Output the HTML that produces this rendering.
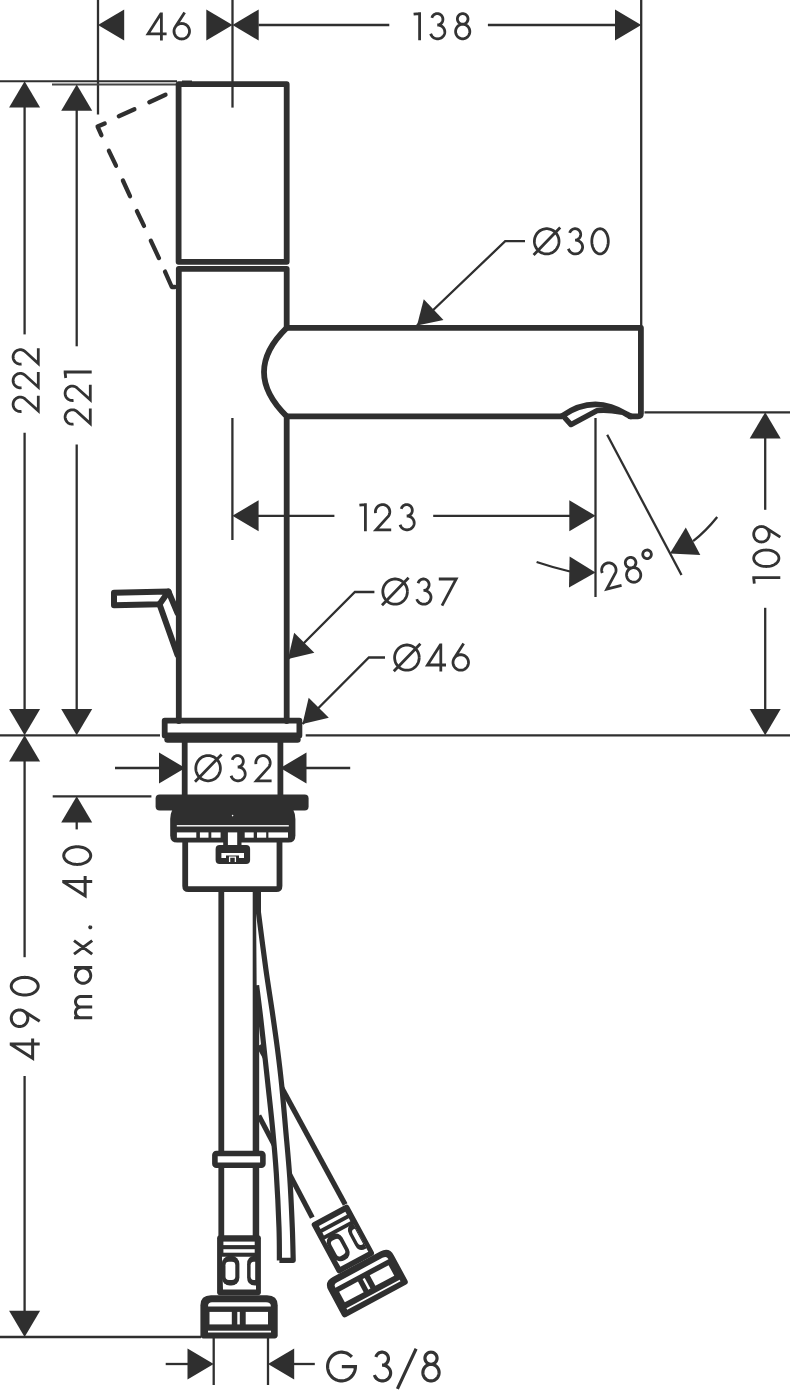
<!DOCTYPE html>
<html><head><meta charset="utf-8"><title>Dimension drawing</title>
<style>html,body{margin:0;padding:0;background:#fff;font-family:"Liberation Sans",sans-serif;}svg{display:block}</style></head>
<body>
<svg width="790" height="1394" viewBox="0 0 790 1394">
<line x1="98.00" y1="0.00" x2="98.00" y2="114.50" stroke="#2f2f2f" stroke-width="2.30" stroke-linecap="butt"/>
<line x1="232.50" y1="0.00" x2="232.50" y2="107.60" stroke="#2f2f2f" stroke-width="2.30" stroke-linecap="butt"/>
<line x1="641.20" y1="0.00" x2="641.20" y2="326.00" stroke="#2f2f2f" stroke-width="2.30" stroke-linecap="butt"/>
<polygon points="98.00,25.00 124.20,9.50 124.20,40.50" fill="#2f2f2f"/>
<polygon points="232.50,25.00 206.30,40.50 206.30,9.50" fill="#2f2f2f"/>
<polygon points="232.50,25.00 258.70,9.50 258.70,40.50" fill="#2f2f2f"/>
<line x1="258.50" y1="25.00" x2="389.30" y2="25.00" stroke="#2f2f2f" stroke-width="2.30" stroke-linecap="butt"/>
<line x1="487.90" y1="25.00" x2="616.00" y2="25.00" stroke="#2f2f2f" stroke-width="2.30" stroke-linecap="butt"/>
<polygon points="641.20,25.00 615.00,40.50 615.00,9.50" fill="#2f2f2f"/>
<line x1="0.00" y1="81.20" x2="177.00" y2="81.20" stroke="#2f2f2f" stroke-width="2.00" stroke-linecap="butt"/>
<line x1="52.00" y1="84.50" x2="177.00" y2="84.50" stroke="#444" stroke-width="1.80" stroke-linecap="butt"/>
<line x1="182.00" y1="81.30" x2="192.00" y2="81.30" stroke="#2f2f2f" stroke-width="1.60" stroke-linecap="butt"/>
<polygon points="24.60,81.20 40.10,107.40 9.10,107.40" fill="#2f2f2f"/>
<line x1="24.60" y1="106.00" x2="24.60" y2="334.40" stroke="#2f2f2f" stroke-width="2.30" stroke-linecap="butt"/>
<line x1="24.60" y1="432.70" x2="24.60" y2="711.00" stroke="#2f2f2f" stroke-width="2.30" stroke-linecap="butt"/>
<polygon points="24.60,735.20 9.10,709.00 40.10,709.00" fill="#2f2f2f"/>
<polygon points="76.70,84.50 92.20,110.70 61.20,110.70" fill="#2f2f2f"/>
<line x1="76.70" y1="109.00" x2="76.70" y2="346.30" stroke="#2f2f2f" stroke-width="2.30" stroke-linecap="butt"/>
<line x1="76.70" y1="444.60" x2="76.70" y2="711.00" stroke="#2f2f2f" stroke-width="2.30" stroke-linecap="butt"/>
<polygon points="76.70,735.20 61.20,709.00 92.20,709.00" fill="#2f2f2f"/>
<line x1="0.00" y1="735.30" x2="160.00" y2="735.30" stroke="#2f2f2f" stroke-width="2.30" stroke-linecap="butt"/>
<line x1="305.70" y1="735.30" x2="790.00" y2="735.30" stroke="#2f2f2f" stroke-width="2.30" stroke-linecap="butt"/>
<polygon points="24.60,735.20 40.10,761.40 9.10,761.40" fill="#2f2f2f"/>
<line x1="24.60" y1="760.00" x2="24.60" y2="957.20" stroke="#2f2f2f" stroke-width="2.30" stroke-linecap="butt"/>
<line x1="24.60" y1="1076.00" x2="24.60" y2="1312.00" stroke="#2f2f2f" stroke-width="2.30" stroke-linecap="butt"/>
<polygon points="24.60,1337.00 9.10,1310.80 40.10,1310.80" fill="#2f2f2f"/>
<line x1="0.00" y1="1337.00" x2="201.00" y2="1337.00" stroke="#2f2f2f" stroke-width="2.30" stroke-linecap="butt"/>
<line x1="52.70" y1="796.30" x2="151.40" y2="796.30" stroke="#2f2f2f" stroke-width="2.30" stroke-linecap="butt"/>
<polygon points="76.70,796.30 92.20,822.50 61.20,822.50" fill="#2f2f2f"/>
<line x1="76.70" y1="821.00" x2="76.70" y2="829.40" stroke="#2f2f2f" stroke-width="2.30" stroke-linecap="butt"/>
<polygon points="185.20,768.00 159.00,783.50 159.00,752.50" fill="#2f2f2f"/>
<line x1="115.00" y1="768.00" x2="161.00" y2="768.00" stroke="#2f2f2f" stroke-width="2.30" stroke-linecap="butt"/>
<polygon points="280.30,768.00 306.50,752.50 306.50,783.50" fill="#2f2f2f"/>
<line x1="305.00" y1="768.00" x2="350.20" y2="768.00" stroke="#2f2f2f" stroke-width="2.30" stroke-linecap="butt"/>
<line x1="232.40" y1="418.00" x2="232.40" y2="540.00" stroke="#2f2f2f" stroke-width="2.30" stroke-linecap="butt"/>
<polygon points="232.40,515.80 258.60,500.30 258.60,531.30" fill="#2f2f2f"/>
<line x1="258.00" y1="515.80" x2="334.40" y2="515.80" stroke="#2f2f2f" stroke-width="2.30" stroke-linecap="butt"/>
<line x1="433.20" y1="515.80" x2="570.00" y2="515.80" stroke="#2f2f2f" stroke-width="2.30" stroke-linecap="butt"/>
<polygon points="595.50,515.80 569.30,531.30 569.30,500.30" fill="#2f2f2f"/>
<line x1="595.50" y1="418.00" x2="595.50" y2="597.00" stroke="#2f2f2f" stroke-width="2.30" stroke-linecap="butt"/>
<line x1="607.20" y1="434.80" x2="681.50" y2="575.00" stroke="#2f2f2f" stroke-width="2.30" stroke-linecap="butt"/>
<polygon points="595.50,572.50 569.00,587.47 569.62,556.48" fill="#2f2f2f"/>
<path d="M536.6,562 Q553,567.5 570,571.5" fill="none" stroke="#2f2f2f" stroke-width="2.30" stroke-linejoin="round" stroke-linecap="butt" />
<polygon points="669.90,553.50 685.79,527.54 700.31,554.93" fill="#2f2f2f"/>
<path d="M693.1,541.2 Q706,531 717.2,517" fill="none" stroke="#2f2f2f" stroke-width="2.30" stroke-linejoin="round" stroke-linecap="butt" />
<line x1="644.50" y1="412.30" x2="790.00" y2="412.30" stroke="#2f2f2f" stroke-width="2.30" stroke-linecap="butt"/>
<polygon points="765.20,412.30 780.70,438.50 749.70,438.50" fill="#2f2f2f"/>
<line x1="765.20" y1="437.00" x2="765.20" y2="509.80" stroke="#2f2f2f" stroke-width="2.30" stroke-linecap="butt"/>
<line x1="765.20" y1="607.80" x2="765.20" y2="711.00" stroke="#2f2f2f" stroke-width="2.30" stroke-linecap="butt"/>
<polygon points="765.20,735.20 749.70,709.00 780.70,709.00" fill="#2f2f2f"/>
<line x1="213.70" y1="1338.00" x2="213.70" y2="1385.00" stroke="#2f2f2f" stroke-width="2.30" stroke-linecap="butt"/>
<line x1="268.00" y1="1338.00" x2="268.00" y2="1385.00" stroke="#2f2f2f" stroke-width="2.30" stroke-linecap="butt"/>
<polygon points="213.70,1364.00 187.50,1379.50 187.50,1348.50" fill="#2f2f2f"/>
<line x1="165.70" y1="1364.00" x2="189.00" y2="1364.00" stroke="#2f2f2f" stroke-width="2.30" stroke-linecap="butt"/>
<polygon points="268.00,1364.00 294.20,1348.50 294.20,1379.50" fill="#2f2f2f"/>
<line x1="293.00" y1="1364.00" x2="314.80" y2="1364.00" stroke="#2f2f2f" stroke-width="2.30" stroke-linecap="butt"/>
<path d="M525.0,241.2 L505.2,241.2 L417.0,325.5" fill="none" stroke="#2f2f2f" stroke-width="2.30" stroke-linejoin="miter" stroke-linecap="butt" />
<polygon points="417.00,325.50 423.78,299.31 443.47,319.91" fill="#2f2f2f"/>
<path d="M374.4,592.0 L354.9,592.0 L288.0,659.0" fill="none" stroke="#2f2f2f" stroke-width="2.30" stroke-linejoin="miter" stroke-linecap="butt" />
<polygon points="288.00,659.00 294.17,632.66 314.34,652.79" fill="#2f2f2f"/>
<path d="M385.0,657.5 L368.9,657.5 L302.5,724.0" fill="none" stroke="#2f2f2f" stroke-width="2.30" stroke-linejoin="miter" stroke-linecap="butt" />
<polygon points="302.50,724.00 308.67,697.66 328.84,717.79" fill="#2f2f2f"/>
<path d="M14.60,0.00 L14.60,-28.00 M14.40,-27.10 L1.26,-6.60 L19.80,-6.60 M27.20,-9.15 L27.24,-8.34 L27.37,-7.54 L27.58,-6.76 L27.87,-6.00 L28.24,-5.27 L28.68,-4.59 L29.19,-3.96 L29.76,-3.39 L30.39,-2.88 L31.07,-2.44 L31.80,-2.07 L32.56,-1.78 L33.34,-1.57 L34.14,-1.44 L34.95,-1.40 L35.76,-1.44 L36.56,-1.57 L37.34,-1.78 L38.10,-2.07 L38.83,-2.44 L39.51,-2.88 L40.14,-3.39 L40.71,-3.96 L41.22,-4.59 L41.66,-5.27 L42.03,-6.00 L42.32,-6.76 L42.53,-7.54 L42.66,-8.34 L42.70,-9.15 L42.66,-9.96 L42.53,-10.76 L42.32,-11.54 L42.03,-12.30 L41.66,-13.02 L41.22,-13.71 L40.71,-14.34 L40.14,-14.91 L39.51,-15.42 L38.83,-15.86 L38.10,-16.23 L37.34,-16.52 L36.56,-16.73 L35.76,-16.86 L34.95,-16.90 L34.14,-16.86 L33.34,-16.73 L32.56,-16.52 L31.80,-16.23 L31.07,-15.86 L30.39,-15.42 L29.76,-14.91 L29.19,-14.34 L28.68,-13.71 L28.24,-13.03 L27.87,-12.30 L27.58,-11.54 L27.37,-10.76 L27.24,-9.96 L27.20,-9.15 M28.43,-13.34 L37.85,-28.00" fill="none" stroke="#333333" stroke-width="2.80" stroke-linejoin="miter" stroke-miterlimit="5" transform="translate(146.80,40.40) rotate(0) scale(1)"/>
<path d="M6.20,0.00 L6.20,-28.00 M0.20,-26.00 L6.20,-26.60 M18.49,-22.38 L18.71,-23.04 L19.01,-23.68 L19.38,-24.27 L19.83,-24.81 L20.33,-25.29 L20.89,-25.71 L21.50,-26.05 L22.14,-26.31 L22.81,-26.49 L23.49,-26.58 L24.18,-26.59 L24.87,-26.51 L25.55,-26.35 L26.19,-26.10 L26.81,-25.77 L27.37,-25.37 L27.89,-24.90 L28.34,-24.37 L28.73,-23.79 L29.04,-23.16 L29.28,-22.50 L29.43,-21.81 L29.50,-21.11 L29.48,-20.40 L29.38,-19.71 L29.19,-19.03 L28.92,-18.38 L28.58,-17.77 L28.16,-17.20 L27.68,-16.70 L27.15,-16.25 L26.56,-15.88 L25.93,-15.59 L25.27,-15.37 L24.59,-15.24 L23.90,-15.20 L24.20,-15.20 L24.93,-15.16 L25.65,-15.06 L26.35,-14.88 L27.03,-14.64 L27.69,-14.34 L28.31,-13.97 L28.88,-13.54 L29.41,-13.06 L29.89,-12.53 L30.30,-11.96 L30.66,-11.35 L30.95,-10.71 L31.17,-10.05 L31.31,-9.36 L31.39,-8.67 L31.39,-7.97 L31.32,-7.28 L31.18,-6.59 L30.96,-5.93 L30.68,-5.29 L30.33,-4.67 L29.91,-4.10 L29.44,-3.57 L28.91,-3.09 L28.34,-2.66 L27.73,-2.28 L27.07,-1.97 L26.39,-1.73 L25.69,-1.55 L24.97,-1.44 L24.24,-1.40 L23.52,-1.43 L22.80,-1.53 L22.09,-1.70 L21.41,-1.94 L20.75,-2.24 L20.13,-2.61 L19.55,-3.03 L19.02,-3.51 L18.54,-4.03 L18.12,-4.60 L17.76,-5.21 L17.47,-5.85 L17.25,-6.51 M49.30,-16.00 L49.96,-16.04 L50.62,-16.17 L51.25,-16.37 L51.85,-16.66 L52.42,-17.01 L52.93,-17.44 L53.38,-17.92 L53.77,-18.46 L54.10,-19.04 L54.34,-19.66 L54.51,-20.31 L54.59,-20.97 L54.59,-21.63 L54.51,-22.29 L54.34,-22.94 L54.10,-23.56 L53.77,-24.14 L53.38,-24.68 L52.93,-25.16 L52.42,-25.59 L51.85,-25.94 L51.25,-26.23 L50.62,-26.43 L49.96,-26.56 L49.30,-26.60 L48.64,-26.56 L47.98,-26.43 L47.35,-26.23 L46.75,-25.94 L46.18,-25.59 L45.67,-25.16 L45.22,-24.68 L44.83,-24.14 L44.50,-23.56 L44.26,-22.94 L44.09,-22.29 L44.01,-21.63 L44.01,-20.97 L44.09,-20.31 L44.26,-19.66 L44.50,-19.04 L44.83,-18.46 L45.22,-17.92 L45.67,-17.44 L46.18,-17.01 L46.75,-16.66 L47.35,-16.37 L47.98,-16.17 L48.64,-16.04 L49.30,-16.00 M49.30,-16.00 L48.56,-15.96 L47.82,-15.84 L47.11,-15.64 L46.41,-15.37 L45.75,-15.02 L45.13,-14.61 L44.55,-14.12 L44.02,-13.58 L43.56,-12.99 L43.15,-12.35 L42.81,-11.67 L42.55,-10.96 L42.36,-10.22 L42.24,-9.46 L42.20,-8.70 L42.24,-7.94 L42.36,-7.18 L42.55,-6.44 L42.81,-5.73 L43.15,-5.05 L43.56,-4.41 L44.02,-3.82 L44.55,-3.28 L45.13,-2.79 L45.75,-2.38 L46.41,-2.03 L47.11,-1.76 L47.82,-1.56 L48.56,-1.44 L49.30,-1.40 L50.04,-1.44 L50.78,-1.56 L51.49,-1.76 L52.19,-2.03 L52.85,-2.38 L53.47,-2.79 L54.05,-3.28 L54.58,-3.82 L55.04,-4.41 L55.45,-5.05 L55.79,-5.73 L56.05,-6.44 L56.24,-7.18 L56.36,-7.94 L56.40,-8.70 L56.36,-9.46 L56.24,-10.22 L56.05,-10.96 L55.79,-11.67 L55.45,-12.35 L55.04,-12.99 L54.58,-13.58 L54.05,-14.12 L53.47,-14.61 L52.85,-15.02 L52.19,-15.37 L51.49,-15.64 L50.78,-15.84 L50.04,-15.96 L49.30,-16.00" fill="none" stroke="#333333" stroke-width="2.80" stroke-linejoin="miter" stroke-miterlimit="5" transform="translate(413.40,40.20) rotate(0) scale(1)"/>
<path d="M26.00,-14.00 L25.95,-15.13 L25.80,-16.25 L25.56,-17.35 L25.22,-18.43 L24.78,-19.47 L24.26,-20.46 L23.65,-21.41 L22.96,-22.29 L22.20,-23.11 L21.37,-23.85 L20.48,-24.52 L19.53,-25.10 L18.53,-25.59 L17.50,-25.98 L16.44,-26.28 L15.35,-26.49 L14.25,-26.59 L13.15,-26.59 L12.05,-26.49 L10.96,-26.28 L9.90,-25.98 L8.87,-25.59 L7.87,-25.10 L6.92,-24.52 L6.03,-23.85 L5.20,-23.11 L4.44,-22.29 L3.75,-21.41 L3.14,-20.46 L2.62,-19.47 L2.18,-18.43 L1.84,-17.35 L1.60,-16.25 L1.45,-15.13 L1.40,-14.00 L1.45,-12.87 L1.60,-11.75 L1.84,-10.65 L2.18,-9.57 L2.62,-8.53 L3.14,-7.54 L3.75,-6.59 L4.44,-5.71 L5.20,-4.89 L6.03,-4.15 L6.92,-3.48 L7.87,-2.90 L8.87,-2.41 L9.90,-2.02 L10.96,-1.72 L12.05,-1.51 L13.15,-1.41 L14.25,-1.41 L15.35,-1.51 L16.44,-1.72 L17.50,-2.02 L18.53,-2.41 L19.53,-2.90 L20.48,-3.48 L21.37,-4.15 L22.20,-4.89 L22.96,-5.71 L23.65,-6.59 L24.26,-7.54 L24.78,-8.53 L25.22,-9.57 L25.56,-10.65 L25.80,-11.75 L25.95,-12.87 L26.00,-14.00 M0.60,-0.40 L27.20,-27.80 M36.69,-22.38 L36.91,-23.04 L37.21,-23.68 L37.58,-24.27 L38.03,-24.81 L38.53,-25.29 L39.09,-25.71 L39.70,-26.05 L40.34,-26.31 L41.01,-26.49 L41.69,-26.58 L42.38,-26.59 L43.07,-26.51 L43.75,-26.35 L44.39,-26.10 L45.01,-25.77 L45.57,-25.37 L46.09,-24.90 L46.54,-24.37 L46.93,-23.79 L47.24,-23.16 L47.48,-22.50 L47.63,-21.81 L47.70,-21.11 L47.68,-20.40 L47.58,-19.71 L47.39,-19.03 L47.12,-18.38 L46.78,-17.77 L46.36,-17.20 L45.88,-16.70 L45.35,-16.25 L44.76,-15.88 L44.13,-15.59 L43.47,-15.37 L42.79,-15.24 L42.10,-15.20 L42.40,-15.20 L43.13,-15.16 L43.85,-15.06 L44.55,-14.88 L45.23,-14.64 L45.89,-14.34 L46.51,-13.97 L47.08,-13.54 L47.61,-13.06 L48.09,-12.53 L48.50,-11.96 L48.86,-11.35 L49.15,-10.71 L49.37,-10.05 L49.51,-9.36 L49.59,-8.67 L49.59,-7.97 L49.52,-7.28 L49.38,-6.59 L49.16,-5.93 L48.88,-5.29 L48.53,-4.67 L48.11,-4.10 L47.64,-3.57 L47.11,-3.09 L46.54,-2.66 L45.93,-2.28 L45.27,-1.97 L44.59,-1.73 L43.89,-1.55 L43.17,-1.44 L42.44,-1.40 L41.72,-1.43 L41.00,-1.53 L40.29,-1.70 L39.61,-1.94 L38.95,-2.24 L38.33,-2.61 L37.75,-3.03 L37.22,-3.51 L36.74,-4.03 L36.32,-4.60 L35.96,-5.21 L35.67,-5.85 L35.45,-6.51 M75.30,-14.00 L75.25,-15.32 L75.12,-16.62 L74.90,-17.89 L74.59,-19.12 L74.19,-20.30 L73.72,-21.41 L73.18,-22.43 L72.57,-23.36 L71.90,-24.19 L71.17,-24.91 L70.41,-25.51 L69.60,-25.98 L68.77,-26.32 L67.91,-26.53 L67.05,-26.60 L66.19,-26.53 L65.33,-26.32 L64.50,-25.98 L63.69,-25.51 L62.92,-24.91 L62.20,-24.19 L61.53,-23.36 L60.92,-22.43 L60.38,-21.41 L59.91,-20.30 L59.51,-19.12 L59.20,-17.89 L58.98,-16.62 L58.85,-15.32 L58.80,-14.00 L58.85,-12.68 L58.98,-11.38 L59.20,-10.11 L59.51,-8.88 L59.91,-7.70 L60.38,-6.59 L60.92,-5.57 L61.53,-4.64 L62.20,-3.81 L62.92,-3.09 L63.69,-2.49 L64.50,-2.02 L65.33,-1.68 L66.19,-1.47 L67.05,-1.40 L67.91,-1.47 L68.77,-1.68 L69.60,-2.02 L70.41,-2.49 L71.17,-3.09 L71.90,-3.81 L72.57,-4.64 L73.18,-5.57 L73.72,-6.59 L74.19,-7.70 L74.59,-8.88 L74.90,-10.11 L75.12,-11.38 L75.25,-12.68 L75.30,-14.00" fill="none" stroke="#333333" stroke-width="2.80" stroke-linejoin="miter" stroke-miterlimit="5" transform="translate(533.00,255.30) rotate(0) scale(1)"/>
<path d="M6.20,0.00 L6.20,-28.00 M0.20,-26.00 L6.20,-26.60 M16.31,-18.15 L16.22,-18.87 L16.20,-19.60 L16.26,-20.33 L16.39,-21.04 L16.59,-21.74 L16.86,-22.42 L17.20,-23.07 L17.60,-23.67 L18.07,-24.24 L18.58,-24.75 L19.15,-25.21 L19.76,-25.61 L20.40,-25.95 L21.08,-26.22 L21.78,-26.42 L22.50,-26.54 L23.22,-26.60 L23.95,-26.58 L24.68,-26.49 L25.38,-26.32 L26.07,-26.09 L26.74,-25.78 L27.36,-25.41 L27.95,-24.98 L28.49,-24.49 L28.98,-23.95 L29.41,-23.36 L29.78,-22.74 L30.09,-22.07 L30.32,-21.38 L30.49,-20.68 L30.58,-19.95 L30.60,-19.22 L30.54,-18.50 L30.42,-17.78 L30.22,-17.08 L29.95,-16.40 L29.61,-15.76 L29.21,-15.15 L28.75,-14.58 L16.80,-1.40 L32.00,-1.40 M42.09,-22.38 L42.31,-23.04 L42.61,-23.68 L42.98,-24.27 L43.43,-24.81 L43.93,-25.29 L44.49,-25.71 L45.10,-26.05 L45.74,-26.31 L46.41,-26.49 L47.09,-26.58 L47.78,-26.59 L48.47,-26.51 L49.15,-26.35 L49.79,-26.10 L50.41,-25.77 L50.97,-25.37 L51.49,-24.90 L51.94,-24.37 L52.33,-23.79 L52.64,-23.16 L52.88,-22.50 L53.03,-21.81 L53.10,-21.11 L53.08,-20.40 L52.98,-19.71 L52.79,-19.03 L52.52,-18.38 L52.18,-17.77 L51.76,-17.20 L51.28,-16.70 L50.75,-16.25 L50.16,-15.88 L49.53,-15.59 L48.87,-15.37 L48.19,-15.24 L47.50,-15.20 L47.80,-15.20 L48.53,-15.16 L49.25,-15.06 L49.95,-14.88 L50.63,-14.64 L51.29,-14.34 L51.91,-13.97 L52.48,-13.54 L53.01,-13.06 L53.49,-12.53 L53.90,-11.96 L54.26,-11.35 L54.55,-10.71 L54.77,-10.05 L54.91,-9.36 L54.99,-8.67 L54.99,-7.97 L54.92,-7.28 L54.78,-6.59 L54.56,-5.93 L54.28,-5.29 L53.93,-4.67 L53.51,-4.10 L53.04,-3.57 L52.51,-3.09 L51.94,-2.66 L51.33,-2.28 L50.67,-1.97 L49.99,-1.73 L49.29,-1.55 L48.57,-1.44 L47.84,-1.40 L47.12,-1.43 L46.40,-1.53 L45.69,-1.70 L45.01,-1.94 L44.35,-2.24 L43.73,-2.61 L43.15,-3.03 L42.62,-3.51 L42.14,-4.03 L41.72,-4.60 L41.36,-5.21 L41.07,-5.85 L40.85,-6.51" fill="none" stroke="#333333" stroke-width="2.80" stroke-linejoin="miter" stroke-miterlimit="5" transform="translate(359.20,531.20) rotate(0) scale(1)"/>
<path d="M26.00,-14.00 L25.95,-15.13 L25.80,-16.25 L25.56,-17.35 L25.22,-18.43 L24.78,-19.47 L24.26,-20.46 L23.65,-21.41 L22.96,-22.29 L22.20,-23.11 L21.37,-23.85 L20.48,-24.52 L19.53,-25.10 L18.53,-25.59 L17.50,-25.98 L16.44,-26.28 L15.35,-26.49 L14.25,-26.59 L13.15,-26.59 L12.05,-26.49 L10.96,-26.28 L9.90,-25.98 L8.87,-25.59 L7.87,-25.10 L6.92,-24.52 L6.03,-23.85 L5.20,-23.11 L4.44,-22.29 L3.75,-21.41 L3.14,-20.46 L2.62,-19.47 L2.18,-18.43 L1.84,-17.35 L1.60,-16.25 L1.45,-15.13 L1.40,-14.00 L1.45,-12.87 L1.60,-11.75 L1.84,-10.65 L2.18,-9.57 L2.62,-8.53 L3.14,-7.54 L3.75,-6.59 L4.44,-5.71 L5.20,-4.89 L6.03,-4.15 L6.92,-3.48 L7.87,-2.90 L8.87,-2.41 L9.90,-2.02 L10.96,-1.72 L12.05,-1.51 L13.15,-1.41 L14.25,-1.41 L15.35,-1.51 L16.44,-1.72 L17.50,-2.02 L18.53,-2.41 L19.53,-2.90 L20.48,-3.48 L21.37,-4.15 L22.20,-4.89 L22.96,-5.71 L23.65,-6.59 L24.26,-7.54 L24.78,-8.53 L25.22,-9.57 L25.56,-10.65 L25.80,-11.75 L25.95,-12.87 L26.00,-14.00 M0.60,-0.40 L27.20,-27.80 M36.69,-22.38 L36.91,-23.04 L37.21,-23.68 L37.58,-24.27 L38.03,-24.81 L38.53,-25.29 L39.09,-25.71 L39.70,-26.05 L40.34,-26.31 L41.01,-26.49 L41.69,-26.58 L42.38,-26.59 L43.07,-26.51 L43.75,-26.35 L44.39,-26.10 L45.01,-25.77 L45.57,-25.37 L46.09,-24.90 L46.54,-24.37 L46.93,-23.79 L47.24,-23.16 L47.48,-22.50 L47.63,-21.81 L47.70,-21.11 L47.68,-20.40 L47.58,-19.71 L47.39,-19.03 L47.12,-18.38 L46.78,-17.77 L46.36,-17.20 L45.88,-16.70 L45.35,-16.25 L44.76,-15.88 L44.13,-15.59 L43.47,-15.37 L42.79,-15.24 L42.10,-15.20 L42.40,-15.20 L43.13,-15.16 L43.85,-15.06 L44.55,-14.88 L45.23,-14.64 L45.89,-14.34 L46.51,-13.97 L47.08,-13.54 L47.61,-13.06 L48.09,-12.53 L48.50,-11.96 L48.86,-11.35 L49.15,-10.71 L49.37,-10.05 L49.51,-9.36 L49.59,-8.67 L49.59,-7.97 L49.52,-7.28 L49.38,-6.59 L49.16,-5.93 L48.88,-5.29 L48.53,-4.67 L48.11,-4.10 L47.64,-3.57 L47.11,-3.09 L46.54,-2.66 L45.93,-2.28 L45.27,-1.97 L44.59,-1.73 L43.89,-1.55 L43.17,-1.44 L42.44,-1.40 L41.72,-1.43 L41.00,-1.53 L40.29,-1.70 L39.61,-1.94 L38.95,-2.24 L38.33,-2.61 L37.75,-3.03 L37.22,-3.51 L36.74,-4.03 L36.32,-4.60 L35.96,-5.21 L35.67,-5.85 L35.45,-6.51 M57.40,-26.60 L74.80,-26.60 L60.60,0.00" fill="none" stroke="#333333" stroke-width="2.80" stroke-linejoin="miter" stroke-miterlimit="5" transform="translate(381.40,605.60) rotate(0) scale(1)"/>
<path d="M26.00,-14.00 L25.95,-15.13 L25.80,-16.25 L25.56,-17.35 L25.22,-18.43 L24.78,-19.47 L24.26,-20.46 L23.65,-21.41 L22.96,-22.29 L22.20,-23.11 L21.37,-23.85 L20.48,-24.52 L19.53,-25.10 L18.53,-25.59 L17.50,-25.98 L16.44,-26.28 L15.35,-26.49 L14.25,-26.59 L13.15,-26.59 L12.05,-26.49 L10.96,-26.28 L9.90,-25.98 L8.87,-25.59 L7.87,-25.10 L6.92,-24.52 L6.03,-23.85 L5.20,-23.11 L4.44,-22.29 L3.75,-21.41 L3.14,-20.46 L2.62,-19.47 L2.18,-18.43 L1.84,-17.35 L1.60,-16.25 L1.45,-15.13 L1.40,-14.00 L1.45,-12.87 L1.60,-11.75 L1.84,-10.65 L2.18,-9.57 L2.62,-8.53 L3.14,-7.54 L3.75,-6.59 L4.44,-5.71 L5.20,-4.89 L6.03,-4.15 L6.92,-3.48 L7.87,-2.90 L8.87,-2.41 L9.90,-2.02 L10.96,-1.72 L12.05,-1.51 L13.15,-1.41 L14.25,-1.41 L15.35,-1.51 L16.44,-1.72 L17.50,-2.02 L18.53,-2.41 L19.53,-2.90 L20.48,-3.48 L21.37,-4.15 L22.20,-4.89 L22.96,-5.71 L23.65,-6.59 L24.26,-7.54 L24.78,-8.53 L25.22,-9.57 L25.56,-10.65 L25.80,-11.75 L25.95,-12.87 L26.00,-14.00 M0.60,-0.40 L27.20,-27.80 M47.60,0.00 L47.60,-28.00 M47.40,-27.10 L34.26,-6.60 L52.80,-6.60 M59.80,-9.15 L59.84,-8.34 L59.97,-7.54 L60.18,-6.76 L60.47,-6.00 L60.84,-5.27 L61.28,-4.59 L61.79,-3.96 L62.36,-3.39 L62.99,-2.88 L63.67,-2.44 L64.40,-2.07 L65.16,-1.78 L65.94,-1.57 L66.74,-1.44 L67.55,-1.40 L68.36,-1.44 L69.16,-1.57 L69.94,-1.78 L70.70,-2.07 L71.42,-2.44 L72.11,-2.88 L72.74,-3.39 L73.31,-3.96 L73.82,-4.59 L74.26,-5.27 L74.63,-6.00 L74.92,-6.76 L75.13,-7.54 L75.26,-8.34 L75.30,-9.15 L75.26,-9.96 L75.13,-10.76 L74.92,-11.54 L74.63,-12.30 L74.26,-13.02 L73.82,-13.71 L73.31,-14.34 L72.74,-14.91 L72.11,-15.42 L71.42,-15.86 L70.70,-16.23 L69.94,-16.52 L69.16,-16.73 L68.36,-16.86 L67.55,-16.90 L66.74,-16.86 L65.94,-16.73 L65.16,-16.52 L64.40,-16.23 L63.67,-15.86 L62.99,-15.42 L62.36,-14.91 L61.79,-14.34 L61.28,-13.71 L60.84,-13.03 L60.47,-12.30 L60.18,-11.54 L59.97,-10.76 L59.84,-9.96 L59.80,-9.15 M61.03,-13.34 L70.45,-28.00" fill="none" stroke="#333333" stroke-width="2.80" stroke-linejoin="miter" stroke-miterlimit="5" transform="translate(393.20,671.60) rotate(0) scale(1)"/>
<path d="M26.00,-14.00 L25.95,-15.13 L25.80,-16.25 L25.56,-17.35 L25.22,-18.43 L24.78,-19.47 L24.26,-20.46 L23.65,-21.41 L22.96,-22.29 L22.20,-23.11 L21.37,-23.85 L20.48,-24.52 L19.53,-25.10 L18.53,-25.59 L17.50,-25.98 L16.44,-26.28 L15.35,-26.49 L14.25,-26.59 L13.15,-26.59 L12.05,-26.49 L10.96,-26.28 L9.90,-25.98 L8.87,-25.59 L7.87,-25.10 L6.92,-24.52 L6.03,-23.85 L5.20,-23.11 L4.44,-22.29 L3.75,-21.41 L3.14,-20.46 L2.62,-19.47 L2.18,-18.43 L1.84,-17.35 L1.60,-16.25 L1.45,-15.13 L1.40,-14.00 L1.45,-12.87 L1.60,-11.75 L1.84,-10.65 L2.18,-9.57 L2.62,-8.53 L3.14,-7.54 L3.75,-6.59 L4.44,-5.71 L5.20,-4.89 L6.03,-4.15 L6.92,-3.48 L7.87,-2.90 L8.87,-2.41 L9.90,-2.02 L10.96,-1.72 L12.05,-1.51 L13.15,-1.41 L14.25,-1.41 L15.35,-1.51 L16.44,-1.72 L17.50,-2.02 L18.53,-2.41 L19.53,-2.90 L20.48,-3.48 L21.37,-4.15 L22.20,-4.89 L22.96,-5.71 L23.65,-6.59 L24.26,-7.54 L24.78,-8.53 L25.22,-9.57 L25.56,-10.65 L25.80,-11.75 L25.95,-12.87 L26.00,-14.00 M0.60,-0.40 L27.20,-27.80 M37.89,-22.38 L38.11,-23.04 L38.41,-23.68 L38.78,-24.27 L39.23,-24.81 L39.73,-25.29 L40.29,-25.71 L40.90,-26.05 L41.54,-26.31 L42.21,-26.49 L42.89,-26.58 L43.58,-26.59 L44.27,-26.51 L44.95,-26.35 L45.59,-26.10 L46.21,-25.77 L46.77,-25.37 L47.29,-24.90 L47.74,-24.37 L48.13,-23.79 L48.44,-23.16 L48.68,-22.50 L48.83,-21.81 L48.90,-21.11 L48.88,-20.40 L48.78,-19.71 L48.59,-19.03 L48.32,-18.38 L47.98,-17.77 L47.56,-17.20 L47.08,-16.70 L46.55,-16.25 L45.96,-15.88 L45.33,-15.59 L44.67,-15.37 L43.99,-15.24 L43.30,-15.20 L43.60,-15.20 L44.33,-15.16 L45.05,-15.06 L45.75,-14.88 L46.43,-14.64 L47.09,-14.34 L47.71,-13.97 L48.28,-13.54 L48.81,-13.06 L49.29,-12.53 L49.70,-11.96 L50.06,-11.35 L50.35,-10.71 L50.57,-10.05 L50.71,-9.36 L50.79,-8.67 L50.79,-7.97 L50.72,-7.28 L50.58,-6.59 L50.36,-5.93 L50.08,-5.29 L49.73,-4.67 L49.31,-4.10 L48.84,-3.57 L48.31,-3.09 L47.74,-2.66 L47.13,-2.28 L46.47,-1.97 L45.79,-1.73 L45.09,-1.55 L44.37,-1.44 L43.64,-1.40 L42.92,-1.43 L42.20,-1.53 L41.49,-1.70 L40.81,-1.94 L40.15,-2.24 L39.53,-2.61 L38.95,-3.03 L38.42,-3.51 L37.94,-4.03 L37.52,-4.60 L37.16,-5.21 L36.87,-5.85 L36.65,-6.51 M61.51,-18.15 L61.42,-18.87 L61.40,-19.60 L61.46,-20.33 L61.59,-21.04 L61.79,-21.74 L62.06,-22.42 L62.40,-23.07 L62.80,-23.67 L63.27,-24.24 L63.78,-24.75 L64.35,-25.21 L64.96,-25.61 L65.60,-25.95 L66.28,-26.22 L66.98,-26.42 L67.70,-26.54 L68.42,-26.60 L69.15,-26.58 L69.88,-26.49 L70.58,-26.32 L71.27,-26.09 L71.94,-25.78 L72.56,-25.41 L73.15,-24.98 L73.69,-24.49 L74.18,-23.95 L74.61,-23.36 L74.98,-22.74 L75.29,-22.07 L75.52,-21.38 L75.69,-20.68 L75.78,-19.95 L75.80,-19.22 L75.74,-18.50 L75.62,-17.78 L75.42,-17.08 L75.15,-16.40 L74.81,-15.76 L74.41,-15.15 L73.95,-14.58 L62.00,-1.40 L77.20,-1.40" fill="none" stroke="#333333" stroke-width="2.80" stroke-linejoin="miter" stroke-miterlimit="5" transform="translate(194.40,782.20) rotate(0) scale(1)"/>
<path d="M1.51,-18.15 L1.42,-18.87 L1.40,-19.60 L1.46,-20.33 L1.59,-21.04 L1.79,-21.74 L2.06,-22.42 L2.40,-23.07 L2.80,-23.67 L3.27,-24.24 L3.78,-24.75 L4.35,-25.21 L4.96,-25.61 L5.60,-25.95 L6.28,-26.22 L6.98,-26.42 L7.70,-26.54 L8.42,-26.60 L9.15,-26.58 L9.88,-26.49 L10.58,-26.32 L11.27,-26.09 L11.94,-25.78 L12.56,-25.41 L13.15,-24.98 L13.69,-24.49 L14.18,-23.95 L14.61,-23.36 L14.98,-22.74 L15.29,-22.07 L15.52,-21.38 L15.69,-20.68 L15.78,-19.95 L15.80,-19.22 L15.74,-18.50 L15.62,-17.78 L15.42,-17.08 L15.15,-16.40 L14.81,-15.76 L14.41,-15.15 L13.95,-14.58 L2.00,-1.40 L17.20,-1.40 M25.21,-18.15 L25.12,-18.87 L25.10,-19.60 L25.16,-20.33 L25.29,-21.04 L25.49,-21.74 L25.76,-22.42 L26.10,-23.07 L26.50,-23.67 L26.97,-24.24 L27.48,-24.75 L28.05,-25.21 L28.66,-25.61 L29.30,-25.95 L29.98,-26.22 L30.68,-26.42 L31.40,-26.54 L32.12,-26.60 L32.85,-26.58 L33.58,-26.49 L34.28,-26.32 L34.97,-26.09 L35.64,-25.78 L36.26,-25.41 L36.85,-24.98 L37.39,-24.49 L37.88,-23.95 L38.31,-23.36 L38.68,-22.74 L38.99,-22.07 L39.22,-21.38 L39.39,-20.68 L39.48,-19.95 L39.50,-19.22 L39.44,-18.50 L39.32,-17.78 L39.12,-17.08 L38.85,-16.40 L38.51,-15.76 L38.11,-15.15 L37.65,-14.58 L25.70,-1.40 L40.90,-1.40 M48.91,-18.15 L48.82,-18.87 L48.80,-19.60 L48.86,-20.33 L48.99,-21.04 L49.19,-21.74 L49.46,-22.42 L49.80,-23.07 L50.20,-23.67 L50.67,-24.24 L51.18,-24.75 L51.75,-25.21 L52.36,-25.61 L53.00,-25.95 L53.68,-26.22 L54.38,-26.42 L55.10,-26.54 L55.82,-26.60 L56.55,-26.58 L57.28,-26.49 L57.98,-26.32 L58.67,-26.09 L59.34,-25.78 L59.96,-25.41 L60.55,-24.98 L61.09,-24.49 L61.58,-23.95 L62.01,-23.36 L62.38,-22.74 L62.69,-22.07 L62.92,-21.38 L63.09,-20.68 L63.18,-19.95 L63.20,-19.22 L63.14,-18.50 L63.02,-17.78 L62.82,-17.08 L62.55,-16.40 L62.21,-15.76 L61.81,-15.15 L61.35,-14.58 L49.40,-1.40 L64.60,-1.40" fill="none" stroke="#333333" stroke-width="2.80" stroke-linejoin="miter" stroke-miterlimit="5" transform="translate(39.70,412.90) rotate(-90) scale(1)"/>
<path d="M1.51,-18.15 L1.42,-18.87 L1.40,-19.60 L1.46,-20.33 L1.59,-21.04 L1.79,-21.74 L2.06,-22.42 L2.40,-23.07 L2.80,-23.67 L3.27,-24.24 L3.78,-24.75 L4.35,-25.21 L4.96,-25.61 L5.60,-25.95 L6.28,-26.22 L6.98,-26.42 L7.70,-26.54 L8.42,-26.60 L9.15,-26.58 L9.88,-26.49 L10.58,-26.32 L11.27,-26.09 L11.94,-25.78 L12.56,-25.41 L13.15,-24.98 L13.69,-24.49 L14.18,-23.95 L14.61,-23.36 L14.98,-22.74 L15.29,-22.07 L15.52,-21.38 L15.69,-20.68 L15.78,-19.95 L15.80,-19.22 L15.74,-18.50 L15.62,-17.78 L15.42,-17.08 L15.15,-16.40 L14.81,-15.76 L14.41,-15.15 L13.95,-14.58 L2.00,-1.40 L17.20,-1.40 M25.21,-18.15 L25.12,-18.87 L25.10,-19.60 L25.16,-20.33 L25.29,-21.04 L25.49,-21.74 L25.76,-22.42 L26.10,-23.07 L26.50,-23.67 L26.97,-24.24 L27.48,-24.75 L28.05,-25.21 L28.66,-25.61 L29.30,-25.95 L29.98,-26.22 L30.68,-26.42 L31.40,-26.54 L32.12,-26.60 L32.85,-26.58 L33.58,-26.49 L34.28,-26.32 L34.97,-26.09 L35.64,-25.78 L36.26,-25.41 L36.85,-24.98 L37.39,-24.49 L37.88,-23.95 L38.31,-23.36 L38.68,-22.74 L38.99,-22.07 L39.22,-21.38 L39.39,-20.68 L39.48,-19.95 L39.50,-19.22 L39.44,-18.50 L39.32,-17.78 L39.12,-17.08 L38.85,-16.40 L38.51,-15.76 L38.11,-15.15 L37.65,-14.58 L25.70,-1.40 L40.90,-1.40 M53.60,0.00 L53.60,-28.00 M47.60,-26.00 L53.60,-26.60" fill="none" stroke="#333333" stroke-width="2.80" stroke-linejoin="miter" stroke-miterlimit="5" transform="translate(91.70,425.60) rotate(-90) scale(1)"/>
<path d="M6.20,0.00 L6.20,-28.00 M0.20,-26.00 L6.20,-26.60 M33.80,-14.00 L33.75,-15.32 L33.62,-16.62 L33.40,-17.89 L33.09,-19.12 L32.69,-20.30 L32.22,-21.41 L31.68,-22.43 L31.07,-23.36 L30.40,-24.19 L29.68,-24.91 L28.91,-25.51 L28.10,-25.98 L27.27,-26.32 L26.41,-26.53 L25.55,-26.60 L24.69,-26.53 L23.83,-26.32 L23.00,-25.98 L22.19,-25.51 L21.43,-24.91 L20.70,-24.19 L20.03,-23.36 L19.42,-22.43 L18.88,-21.41 L18.41,-20.30 L18.01,-19.12 L17.70,-17.89 L17.48,-16.62 L17.35,-15.32 L17.30,-14.00 L17.35,-12.68 L17.48,-11.38 L17.70,-10.11 L18.01,-8.88 L18.41,-7.70 L18.88,-6.59 L19.42,-5.57 L20.03,-4.64 L20.70,-3.81 L21.42,-3.09 L22.19,-2.49 L23.00,-2.02 L23.83,-1.68 L24.69,-1.47 L25.55,-1.40 L26.41,-1.47 L27.27,-1.68 L28.10,-2.02 L28.91,-2.49 L29.68,-3.09 L30.40,-3.81 L31.07,-4.64 L31.68,-5.57 L32.22,-6.59 L32.69,-7.70 L33.09,-8.88 L33.40,-10.11 L33.62,-11.38 L33.75,-12.68 L33.80,-14.00 M57.30,-18.85 L57.26,-19.66 L57.13,-20.46 L56.92,-21.24 L56.63,-22.00 L56.26,-22.73 L55.82,-23.41 L55.31,-24.04 L54.74,-24.61 L54.11,-25.12 L53.42,-25.56 L52.70,-25.93 L51.94,-26.22 L51.16,-26.43 L50.36,-26.56 L49.55,-26.60 L48.74,-26.56 L47.94,-26.43 L47.16,-26.22 L46.40,-25.93 L45.67,-25.56 L44.99,-25.12 L44.36,-24.61 L43.79,-24.04 L43.28,-23.41 L42.84,-22.73 L42.47,-22.00 L42.18,-21.24 L41.97,-20.46 L41.84,-19.66 L41.80,-18.85 L41.84,-18.04 L41.97,-17.24 L42.18,-16.46 L42.47,-15.70 L42.84,-14.98 L43.28,-14.29 L43.79,-13.66 L44.36,-13.09 L44.99,-12.58 L45.67,-12.14 L46.40,-11.77 L47.16,-11.48 L47.94,-11.27 L48.74,-11.14 L49.55,-11.10 L50.36,-11.14 L51.16,-11.27 L51.94,-11.48 L52.70,-11.77 L53.42,-12.14 L54.11,-12.58 L54.74,-13.09 L55.31,-13.66 L55.82,-14.29 L56.26,-14.97 L56.63,-15.70 L56.92,-16.46 L57.13,-17.24 L57.26,-18.04 L57.30,-18.85 M56.07,-14.66 L46.65,0.00" fill="none" stroke="#333333" stroke-width="2.80" stroke-linejoin="miter" stroke-miterlimit="5" transform="translate(780.30,583.80) rotate(-90) scale(1)"/>
<path d="M14.60,0.00 L14.60,-28.00 M14.40,-27.10 L1.26,-6.60 L19.80,-6.60 M46.43,-18.85 L46.39,-19.66 L46.26,-20.46 L46.05,-21.24 L45.76,-22.00 L45.39,-22.73 L44.95,-23.41 L44.44,-24.04 L43.87,-24.61 L43.24,-25.12 L42.56,-25.56 L41.83,-25.93 L41.08,-26.22 L40.29,-26.43 L39.49,-26.56 L38.68,-26.60 L37.87,-26.56 L37.07,-26.43 L36.29,-26.22 L35.53,-25.93 L34.81,-25.56 L34.13,-25.12 L33.50,-24.61 L32.92,-24.04 L32.41,-23.41 L31.97,-22.73 L31.60,-22.00 L31.31,-21.24 L31.10,-20.46 L30.98,-19.66 L30.93,-18.85 L30.98,-18.04 L31.10,-17.24 L31.31,-16.46 L31.60,-15.70 L31.97,-14.98 L32.41,-14.29 L32.92,-13.66 L33.50,-13.09 L34.13,-12.58 L34.81,-12.14 L35.53,-11.77 L36.29,-11.48 L37.07,-11.27 L37.87,-11.14 L38.68,-11.10 L39.49,-11.14 L40.29,-11.27 L41.08,-11.48 L41.83,-11.77 L42.56,-12.14 L43.24,-12.58 L43.87,-13.09 L44.44,-13.66 L44.95,-14.29 L45.39,-14.97 L45.76,-15.70 L46.05,-16.46 L46.26,-17.24 L46.39,-18.04 L46.43,-18.85 M45.20,-14.66 L35.78,0.00 M76.87,-14.00 L76.83,-15.32 L76.69,-16.62 L76.47,-17.89 L76.16,-19.12 L75.77,-20.30 L75.30,-21.41 L74.75,-22.43 L74.14,-23.36 L73.47,-24.19 L72.75,-24.91 L71.98,-25.51 L71.17,-25.98 L70.34,-26.32 L69.48,-26.53 L68.62,-26.60 L67.76,-26.53 L66.91,-26.32 L66.07,-25.98 L65.27,-25.51 L64.50,-24.91 L63.77,-24.19 L63.10,-23.36 L62.49,-22.43 L61.95,-21.41 L61.48,-20.30 L61.09,-19.12 L60.78,-17.89 L60.55,-16.62 L60.42,-15.32 L60.37,-14.00 L60.42,-12.68 L60.55,-11.38 L60.78,-10.11 L61.09,-8.88 L61.48,-7.70 L61.95,-6.59 L62.49,-5.57 L63.10,-4.64 L63.77,-3.81 L64.50,-3.09 L65.27,-2.49 L66.07,-2.02 L66.91,-1.68 L67.76,-1.47 L68.62,-1.40 L69.48,-1.47 L70.34,-1.68 L71.17,-2.02 L71.98,-2.49 L72.75,-3.09 L73.47,-3.81 L74.14,-4.64 L74.75,-5.57 L75.30,-6.59 L75.77,-7.70 L76.16,-8.88 L76.47,-10.11 L76.69,-11.38 L76.83,-12.68 L76.87,-14.00" fill="none" stroke="#333333" stroke-width="2.80" stroke-linejoin="miter" stroke-miterlimit="5" transform="translate(39.70,1059.60) rotate(-90) scale(1.07)"/>
<path d="M86.51,-1.80 L86.47,-2.03 L86.34,-2.22 L86.14,-2.35 L85.91,-2.40 L85.68,-2.35 L85.49,-2.22 L85.36,-2.03 L85.31,-1.80 L85.36,-1.57 L85.49,-1.38 L85.68,-1.25 L85.91,-1.20 L86.14,-1.25 L86.34,-1.38 L86.47,-1.57 L86.51,-1.80" fill="none" stroke="#333333" stroke-width="2.60" stroke-linejoin="round" transform="translate(92.20,1019.20) rotate(-90) scale(1.07)"/>
<path d="M1.40,0.00 L1.40,-17.00 M1.40,-10.65 L1.40,-10.65 L1.44,-11.30 L1.57,-11.93 L1.78,-12.54 L2.06,-13.12 L2.42,-13.66 L2.85,-14.15 L3.34,-14.58 L3.88,-14.94 L4.46,-15.22 L5.07,-15.43 L5.70,-15.56 L6.35,-15.60 L7.00,-15.56 L7.63,-15.43 L8.24,-15.22 L8.82,-14.94 L9.36,-14.58 L9.85,-14.15 L10.28,-13.66 L10.64,-13.12 L10.92,-12.54 L11.13,-11.93 L11.26,-11.30 L11.30,-10.65 L11.30,0.00 M11.30,-10.65 L11.30,-10.65 L11.34,-11.30 L11.47,-11.93 L11.68,-12.54 L11.96,-13.12 L12.32,-13.66 L12.75,-14.15 L13.24,-14.58 L13.78,-14.94 L14.36,-15.22 L14.97,-15.43 L15.60,-15.56 L16.25,-15.60 L16.90,-15.56 L17.53,-15.43 L18.14,-15.22 L18.73,-14.94 L19.26,-14.58 L19.75,-14.15 L20.18,-13.66 L20.54,-13.12 L20.82,-12.54 L21.03,-11.93 L21.16,-11.30 L21.20,-10.65 L21.20,0.00 M47.84,-8.50 L47.79,-9.39 L47.62,-10.27 L47.34,-11.11 L46.96,-11.92 L46.49,-12.67 L45.92,-13.36 L45.27,-13.97 L44.55,-14.49 L43.77,-14.92 L42.94,-15.25 L42.07,-15.47 L41.19,-15.59 L40.30,-15.59 L39.41,-15.47 L38.55,-15.25 L37.72,-14.92 L36.94,-14.49 L36.22,-13.97 L35.57,-13.36 L35.00,-12.67 L34.52,-11.92 L34.14,-11.11 L33.87,-10.27 L33.70,-9.39 L33.64,-8.50 L33.70,-7.61 L33.87,-6.73 L34.14,-5.89 L34.52,-5.08 L35.00,-4.33 L35.57,-3.64 L36.22,-3.03 L36.94,-2.51 L37.72,-2.08 L38.55,-1.75 L39.41,-1.53 L40.30,-1.41 L41.19,-1.41 L42.07,-1.53 L42.94,-1.75 L43.77,-2.08 L44.55,-2.51 L45.27,-3.03 L45.92,-3.64 L46.49,-4.33 L46.96,-5.08 L47.34,-5.89 L47.62,-6.73 L47.79,-7.61 L47.84,-8.50 M48.34,0.00 L48.34,-17.00 M60.81,0.00 L73.41,-17.00 M60.81,-17.00 L73.41,0.00 M128.71,0.00 L128.71,-28.00 M128.51,-27.10 L115.37,-6.60 L133.91,-6.60 M161.17,-14.00 L161.13,-15.32 L160.99,-16.62 L160.77,-17.89 L160.46,-19.12 L160.07,-20.30 L159.60,-21.41 L159.05,-22.43 L158.44,-23.36 L157.77,-24.19 L157.05,-24.91 L156.28,-25.51 L155.47,-25.98 L154.64,-26.32 L153.78,-26.53 L152.92,-26.60 L152.06,-26.53 L151.21,-26.32 L150.37,-25.98 L149.57,-25.51 L148.80,-24.91 L148.07,-24.19 L147.40,-23.36 L146.79,-22.43 L146.25,-21.41 L145.78,-20.30 L145.38,-19.12 L145.07,-17.89 L144.85,-16.62 L144.72,-15.32 L144.67,-14.00 L144.72,-12.68 L144.85,-11.38 L145.07,-10.11 L145.38,-8.88 L145.78,-7.70 L146.25,-6.59 L146.79,-5.57 L147.40,-4.64 L148.07,-3.81 L148.80,-3.09 L149.57,-2.49 L150.37,-2.02 L151.21,-1.68 L152.06,-1.47 L152.92,-1.40 L153.78,-1.47 L154.64,-1.68 L155.47,-2.02 L156.28,-2.49 L157.05,-3.09 L157.77,-3.81 L158.44,-4.64 L159.05,-5.57 L159.60,-6.59 L160.07,-7.70 L160.46,-8.88 L160.77,-10.11 L160.99,-11.38 L161.13,-12.68 L161.17,-14.00" fill="none" stroke="#333333" stroke-width="2.80" stroke-linejoin="miter" stroke-miterlimit="5" transform="translate(92.20,1019.20) rotate(-90) scale(1.07)"/>
<path d="M1.51,-18.15 L1.42,-18.87 L1.40,-19.60 L1.46,-20.33 L1.59,-21.04 L1.79,-21.74 L2.06,-22.42 L2.40,-23.07 L2.80,-23.67 L3.27,-24.24 L3.78,-24.75 L4.35,-25.21 L4.96,-25.61 L5.60,-25.95 L6.28,-26.22 L6.98,-26.42 L7.70,-26.54 L8.42,-26.60 L9.15,-26.58 L9.88,-26.49 L10.58,-26.32 L11.27,-26.09 L11.94,-25.78 L12.56,-25.41 L13.15,-24.98 L13.69,-24.49 L14.18,-23.95 L14.61,-23.36 L14.98,-22.74 L15.29,-22.07 L15.52,-21.38 L15.69,-20.68 L15.78,-19.95 L15.80,-19.22 L15.74,-18.50 L15.62,-17.78 L15.42,-17.08 L15.15,-16.40 L14.81,-15.76 L14.41,-15.15 L13.95,-14.58 L2.00,-1.40 L17.20,-1.40 M31.50,-16.00 L32.16,-16.04 L32.82,-16.17 L33.45,-16.37 L34.05,-16.66 L34.62,-17.01 L35.13,-17.44 L35.58,-17.92 L35.97,-18.46 L36.30,-19.04 L36.54,-19.66 L36.71,-20.31 L36.79,-20.97 L36.79,-21.63 L36.71,-22.29 L36.54,-22.94 L36.30,-23.56 L35.97,-24.14 L35.58,-24.68 L35.13,-25.16 L34.62,-25.59 L34.05,-25.94 L33.45,-26.23 L32.82,-26.43 L32.16,-26.56 L31.50,-26.60 L30.84,-26.56 L30.18,-26.43 L29.55,-26.23 L28.95,-25.94 L28.38,-25.59 L27.87,-25.16 L27.42,-24.68 L27.03,-24.14 L26.70,-23.56 L26.46,-22.94 L26.29,-22.29 L26.21,-21.63 L26.21,-20.97 L26.29,-20.31 L26.46,-19.66 L26.70,-19.04 L27.03,-18.46 L27.42,-17.92 L27.87,-17.44 L28.38,-17.01 L28.95,-16.66 L29.55,-16.37 L30.18,-16.17 L30.84,-16.04 L31.50,-16.00 M31.50,-16.00 L30.76,-15.96 L30.02,-15.84 L29.31,-15.64 L28.61,-15.37 L27.95,-15.02 L27.33,-14.61 L26.75,-14.12 L26.22,-13.58 L25.76,-12.99 L25.35,-12.35 L25.01,-11.67 L24.75,-10.96 L24.56,-10.22 L24.44,-9.46 L24.40,-8.70 L24.44,-7.94 L24.56,-7.18 L24.75,-6.44 L25.01,-5.73 L25.35,-5.05 L25.76,-4.41 L26.22,-3.82 L26.75,-3.28 L27.33,-2.79 L27.95,-2.38 L28.61,-2.03 L29.31,-1.76 L30.02,-1.56 L30.76,-1.44 L31.50,-1.40 L32.24,-1.44 L32.98,-1.56 L33.69,-1.76 L34.39,-2.03 L35.05,-2.38 L35.67,-2.79 L36.25,-3.28 L36.78,-3.82 L37.24,-4.41 L37.65,-5.05 L37.99,-5.73 L38.25,-6.44 L38.44,-7.18 L38.56,-7.94 L38.60,-8.70 L38.56,-9.46 L38.44,-10.22 L38.25,-10.96 L37.99,-11.67 L37.65,-12.35 L37.24,-12.99 L36.78,-13.58 L36.25,-14.12 L35.67,-14.61 L35.05,-15.02 L34.39,-15.37 L33.69,-15.64 L32.98,-15.84 L32.24,-15.96 L31.50,-16.00 M53.80,-25.50 L53.71,-26.39 L53.43,-27.25 L52.98,-28.03 L52.38,-28.70 L51.65,-29.22 L50.83,-29.59 L49.95,-29.78 L49.05,-29.78 L48.17,-29.59 L47.35,-29.22 L46.62,-28.70 L46.02,-28.03 L45.57,-27.25 L45.29,-26.39 L45.20,-25.50 L45.29,-24.61 L45.57,-23.75 L46.02,-22.97 L46.62,-22.30 L47.35,-21.78 L48.17,-21.41 L49.05,-21.22 L49.95,-21.22 L50.83,-21.41 L51.65,-21.78 L52.38,-22.30 L52.98,-22.97 L53.43,-23.75 L53.71,-24.61 L53.80,-25.50" fill="none" stroke="#333333" stroke-width="2.80" stroke-linejoin="miter" stroke-miterlimit="5" transform="translate(605.20,591.00) rotate(-14) scale(1)"/>
<path d="M22.67,-22.43 L21.99,-23.15 L21.26,-23.80 L20.49,-24.40 L19.67,-24.93 L18.81,-25.39 L17.92,-25.78 L17.00,-26.10 L16.07,-26.34 L15.11,-26.50 L14.15,-26.59 L13.18,-26.59 L12.22,-26.52 L11.26,-26.37 L10.32,-26.14 L9.40,-25.83 L8.50,-25.45 L7.64,-25.00 L6.82,-24.47 L6.04,-23.89 L5.30,-23.24 L4.62,-22.53 L3.99,-21.77 L3.43,-20.96 L2.93,-20.10 L2.49,-19.21 L2.13,-18.29 L1.83,-17.33 L1.62,-16.36 L1.47,-15.37 L1.41,-14.38 L1.41,-13.38 L1.50,-12.38 L1.66,-11.40 L1.90,-10.43 L2.21,-9.48 L2.59,-8.57 L3.04,-7.68 L3.56,-6.84 L4.14,-6.04 L4.78,-5.29 L5.48,-4.60 L6.22,-3.96 L7.02,-3.39 L7.85,-2.89 L8.72,-2.45 L9.62,-2.09 L10.55,-1.80 L11.49,-1.59 L12.45,-1.46 L13.42,-1.40 L14.38,-1.43 L15.35,-1.53 L16.30,-1.71 L17.23,-1.97 L18.14,-2.31 L19.02,-2.71 L19.87,-3.19 L20.68,-3.74 L21.45,-4.35 L22.16,-5.02 L22.82,-5.75 L23.43,-6.53 L23.97,-7.36 L24.45,-8.23 L24.85,-9.13 L25.19,-10.07 L25.46,-11.03 L25.65,-12.01 L25.76,-13.00 L25.80,-14.00 L13.90,-14.00 M43.77,-22.38 L43.99,-23.04 L44.29,-23.68 L44.66,-24.27 L45.10,-24.81 L45.61,-25.29 L46.17,-25.71 L46.77,-26.05 L47.42,-26.31 L48.08,-26.49 L48.77,-26.58 L49.46,-26.59 L50.15,-26.51 L50.82,-26.35 L51.47,-26.10 L52.08,-25.77 L52.65,-25.37 L53.17,-24.90 L53.62,-24.37 L54.01,-23.79 L54.32,-23.16 L54.55,-22.50 L54.71,-21.81 L54.77,-21.11 L54.76,-20.40 L54.65,-19.71 L54.47,-19.03 L54.20,-18.38 L53.86,-17.77 L53.44,-17.20 L52.96,-16.70 L52.42,-16.25 L51.83,-15.88 L51.21,-15.59 L50.55,-15.37 L49.87,-15.24 L49.18,-15.20 L49.48,-15.20 L50.20,-15.16 L50.92,-15.06 L51.63,-14.88 L52.31,-14.64 L52.97,-14.34 L53.58,-13.97 L54.16,-13.54 L54.69,-13.06 L55.16,-12.53 L55.58,-11.96 L55.93,-11.35 L56.22,-10.71 L56.44,-10.05 L56.59,-9.36 L56.67,-8.67 L56.67,-7.97 L56.60,-7.28 L56.45,-6.59 L56.24,-5.93 L55.95,-5.29 L55.60,-4.67 L55.19,-4.10 L54.72,-3.57 L54.19,-3.09 L53.62,-2.66 L53.00,-2.28 L52.35,-1.97 L51.67,-1.73 L50.97,-1.55 L50.25,-1.44 L49.52,-1.40 L48.79,-1.43 L48.07,-1.53 L47.37,-1.70 L46.68,-1.94 L46.03,-2.24 L45.41,-2.61 L44.83,-3.03 L44.30,-3.51 L43.82,-4.03 L43.40,-4.60 L43.04,-5.21 L42.75,-5.85 L42.52,-6.51 M62.64,5.60 L79.04,-29.60 M92.10,-16.00 L92.76,-16.04 L93.41,-16.17 L94.05,-16.37 L94.65,-16.66 L95.21,-17.01 L95.72,-17.44 L96.18,-17.92 L96.57,-18.46 L96.89,-19.04 L97.14,-19.66 L97.30,-20.31 L97.39,-20.97 L97.39,-21.63 L97.30,-22.29 L97.14,-22.94 L96.89,-23.56 L96.57,-24.14 L96.18,-24.68 L95.72,-25.16 L95.21,-25.59 L94.65,-25.94 L94.05,-26.23 L93.41,-26.43 L92.76,-26.56 L92.10,-26.60 L91.43,-26.56 L90.78,-26.43 L90.15,-26.23 L89.54,-25.94 L88.98,-25.59 L88.47,-25.16 L88.01,-24.68 L87.62,-24.14 L87.30,-23.56 L87.06,-22.94 L86.89,-22.29 L86.81,-21.63 L86.81,-20.97 L86.89,-20.31 L87.06,-19.66 L87.30,-19.04 L87.62,-18.46 L88.01,-17.92 L88.47,-17.44 L88.98,-17.01 L89.54,-16.66 L90.15,-16.37 L90.78,-16.17 L91.43,-16.04 L92.10,-16.00 M92.10,-16.00 L91.35,-15.96 L90.62,-15.84 L89.90,-15.64 L89.21,-15.37 L88.55,-15.02 L87.92,-14.61 L87.35,-14.12 L86.82,-13.58 L86.35,-12.99 L85.95,-12.35 L85.61,-11.67 L85.34,-10.96 L85.15,-10.22 L85.04,-9.46 L85.00,-8.70 L85.04,-7.94 L85.15,-7.18 L85.34,-6.44 L85.61,-5.73 L85.95,-5.05 L86.35,-4.41 L86.82,-3.82 L87.35,-3.28 L87.92,-2.79 L88.55,-2.38 L89.21,-2.03 L89.90,-1.76 L90.62,-1.56 L91.35,-1.44 L92.10,-1.40 L92.84,-1.44 L93.57,-1.56 L94.29,-1.76 L94.98,-2.03 L95.65,-2.38 L96.27,-2.79 L96.85,-3.28 L97.37,-3.82 L97.84,-4.41 L98.25,-5.05 L98.58,-5.73 L98.85,-6.44 L99.04,-7.18 L99.16,-7.94 L99.20,-8.70 L99.16,-9.46 L99.04,-10.22 L98.85,-10.96 L98.58,-11.67 L98.25,-12.35 L97.84,-12.99 L97.37,-13.58 L96.85,-14.12 L96.27,-14.61 L95.65,-15.02 L94.98,-15.37 L94.29,-15.64 L93.57,-15.84 L92.84,-15.96 L92.10,-16.00" fill="none" stroke="#333333" stroke-width="2.80" stroke-linejoin="miter" stroke-miterlimit="5" transform="translate(326.00,1382.50) rotate(0) scale(1.14)"/>
<path d="M178.6,84.2 H286.7 V261.8 H178.6 Z" fill="none" stroke="#2f2f2f" stroke-width="5.80" stroke-linejoin="round" stroke-linecap="round" />
<line x1="149.30" y1="102.20" x2="165.50" y2="94.70" stroke="#2f2f2f" stroke-width="4.30" stroke-linecap="round"/>
<line x1="118.80" y1="116.20" x2="134.40" y2="109.30" stroke="#2f2f2f" stroke-width="4.30" stroke-linecap="round"/>
<line x1="108.90" y1="150.80" x2="116.00" y2="165.70" stroke="#2f2f2f" stroke-width="4.30" stroke-linecap="round"/>
<line x1="122.90" y1="180.50" x2="130.00" y2="196.20" stroke="#2f2f2f" stroke-width="4.30" stroke-linecap="round"/>
<line x1="136.90" y1="211.10" x2="144.00" y2="225.90" stroke="#2f2f2f" stroke-width="4.30" stroke-linecap="round"/>
<line x1="150.90" y1="240.80" x2="158.90" y2="258.10" stroke="#2f2f2f" stroke-width="4.30" stroke-linecap="round"/>
<path d="M104.7,123.6 L97.6,126.6 L101.4,135.2" fill="none" stroke="#2f2f2f" stroke-width="4.30" stroke-linejoin="round" stroke-linecap="round" />
<path d="M165,271.6 L171.8,287 L175,287" fill="none" stroke="#2f2f2f" stroke-width="4.30" stroke-linejoin="round" stroke-linecap="round" />
<path d="M178.8,721 V268.8 H286.7 V327.8 H640.9 V413.5 Q640.9,416.3 638,416.3 H630" fill="none" stroke="#2f2f2f" stroke-width="5.80" stroke-linejoin="round" stroke-linecap="round" />
<path d="M286.7,327.8 C270,344 264,358 264,372 C264,386 270,400 286.7,416.3 V721" fill="none" stroke="#2f2f2f" stroke-width="5.80" stroke-linejoin="round" stroke-linecap="round" />
<path d="M286.7,416.3 H562" fill="none" stroke="#2f2f2f" stroke-width="5.80" stroke-linejoin="round" stroke-linecap="butt" />
<path d="M562,416 Q594,393.5 627,414.5 L631,416.3" fill="none" stroke="#2f2f2f" stroke-width="5.80" stroke-linejoin="round" stroke-linecap="round" />
<path d="M564.5,417.5 L571,424.6 L597,410.6 Q608,409.6 621,412" fill="none" stroke="#2f2f2f" stroke-width="5.40" stroke-linejoin="round" stroke-linecap="round" />
<path d="M168.5,591.6 L114,592.7 V605.3 L159.5,604.2 Z" fill="none" stroke="#2f2f2f" stroke-width="6.00" stroke-linejoin="round" stroke-linecap="round" />
<path d="M168.5,591.6 L177.5,613" fill="none" stroke="#2f2f2f" stroke-width="6.00" stroke-linejoin="round" stroke-linecap="round" />
<path d="M159.5,604.2 L177.5,655" fill="none" stroke="#2f2f2f" stroke-width="6.00" stroke-linejoin="round" stroke-linecap="round" />
<path d="M164.7,720.7 H299.4 V735.4 H164.7 Z" fill="none" stroke="#2f2f2f" stroke-width="5.80" stroke-linejoin="round" stroke-linecap="round" />
<line x1="167.50" y1="739.60" x2="297.50" y2="739.60" stroke="#2f2f2f" stroke-width="6.40" stroke-linecap="round"/>
<line x1="184.70" y1="742.00" x2="184.70" y2="796.00" stroke="#2f2f2f" stroke-width="5.80" stroke-linecap="butt"/>
<line x1="280.40" y1="742.00" x2="280.40" y2="796.00" stroke="#2f2f2f" stroke-width="5.80" stroke-linecap="butt"/>
<rect x="155.6" y="794.6" width="153" height="16" rx="4" fill="#2f2f2f"/>
<path d="M172.6,809 H293 Q295.4,814 295.4,819 V835.5 Q295.4,842.6 288.4,842.6 H177.2 Q170.2,842.6 170.2,835.5 V819 Q170.2,814 172.6,809 Z" fill="#2f2f2f"/>
<rect x="176.8" y="825.1" width="112" height="1.4" fill="#fff"/>
<rect x="176.9" y="832.4" width="19.4" height="5.3" fill="#fff"/>
<rect x="199.9" y="832.4" width="8.6" height="5.3" fill="#fff"/>
<rect x="211.3" y="832.4" width="9.3" height="5.3" fill="#fff"/>
<rect x="244.7" y="832.4" width="9.0" height="5.3" fill="#fff"/>
<rect x="257.0" y="832.4" width="9.2" height="5.3" fill="#fff"/>
<rect x="268.4" y="832.4" width="19.6" height="5.3" fill="#fff"/>
<circle cx="232.6" cy="815.6" r="0.8" fill="#fff"/>
<path d="M185.2,842 V886 Q185.2,889.2 188.4,889.2 H276.3 Q279.5,889.2 279.5,886 V842" fill="none" stroke="#2f2f2f" stroke-width="5.80" stroke-linejoin="round" stroke-linecap="round" />
<rect x="223.2" y="831" width="18.3" height="15" fill="#2f2f2f"/>
<rect x="227.9" y="832.4" width="9.3" height="12.6" fill="#fff"/>
<rect x="215.6" y="845" width="34.5" height="19" rx="4" fill="#2f2f2f"/>
<path d="M221.4,853 H244 V858 H239 V855.6 H226 V858 H221.4 Z" fill="#fff"/>
<path d="M229.6,862 V857.2 H235.4 V862" fill="none" stroke="#fff" stroke-width="1.3"/>
<line x1="221.30" y1="892.00" x2="221.30" y2="1237.00" stroke="#2f2f2f" stroke-width="5.80" stroke-linecap="butt"/>
<line x1="256.20" y1="892.00" x2="256.20" y2="1237.00" stroke="#2f2f2f" stroke-width="5.80" stroke-linecap="butt"/>
<line x1="258.80" y1="1045.50" x2="345.20" y2="1204.40" stroke="#2f2f2f" stroke-width="5.20" stroke-linecap="butt"/>
<line x1="258.80" y1="1115.60" x2="312.30" y2="1217.60" stroke="#2f2f2f" stroke-width="5.20" stroke-linecap="butt"/>
<path d="M258.40,912.00 C259.63,921.45 263.53,952.38 265.80,968.70 C268.07,985.02 270.03,996.35 272.00,1009.90 C273.97,1023.45 276.00,1037.60 277.60,1050.00 C279.20,1062.40 280.27,1071.18 281.60,1084.30 C282.93,1097.42 284.23,1113.08 285.60,1128.70 C286.97,1144.32 288.68,1161.53 289.80,1178.00 C290.92,1194.47 291.73,1213.77 292.30,1227.50 C292.87,1241.23 293.05,1254.92 293.20,1260.40 L279.40,1260.40 C279.33,1254.92 279.52,1242.03 279.00,1227.50 C278.48,1212.97 277.37,1189.67 276.30,1173.20 C275.23,1156.73 274.00,1143.52 272.60,1128.70 C271.20,1113.88 269.13,1095.88 267.90,1084.30 C266.67,1072.72 266.40,1070.25 265.20,1059.20 C264.00,1048.15 262.13,1030.33 260.70,1018.00 C259.27,1005.67 257.28,990.67 256.60,985.20 L256,912 Z" fill="#fff"/>
<path d="M258.4,892 L258.40,912.00 C259.63,921.45 263.53,952.38 265.80,968.70 C268.07,985.02 270.03,996.35 272.00,1009.90 C273.97,1023.45 276.00,1037.60 277.60,1050.00 C279.20,1062.40 280.27,1071.18 281.60,1084.30 C282.93,1097.42 284.23,1113.08 285.60,1128.70 C286.97,1144.32 288.68,1161.53 289.80,1178.00 C290.92,1194.47 291.73,1213.77 292.30,1227.50 C292.87,1241.23 293.05,1254.92 293.20,1260.40 L279.40,1260.40" fill="none" stroke="#2f2f2f" stroke-width="5.20" stroke-linejoin="round" stroke-linecap="butt" />
<path d="M256.60,985.20 C257.28,990.67 259.27,1005.67 260.70,1018.00 C262.13,1030.33 264.00,1048.15 265.20,1059.20 C266.40,1070.25 266.67,1072.72 267.90,1084.30 C269.13,1095.88 271.20,1113.88 272.60,1128.70 C274.00,1143.52 275.23,1156.73 276.30,1173.20 C277.37,1189.67 278.48,1212.97 279.00,1227.50 C279.52,1242.03 279.33,1254.92 279.40,1260.40" fill="none" stroke="#2f2f2f" stroke-width="5.20" stroke-linejoin="round" stroke-linecap="butt" />
<line x1="254.40" y1="892.00" x2="254.40" y2="1237.00" stroke="#2f2f2f" stroke-width="3.40" stroke-linecap="butt"/>
<line x1="256.20" y1="1010.00" x2="256.20" y2="1237.00" stroke="#2f2f2f" stroke-width="5.80" stroke-linecap="butt"/>
<rect x="214.9" y="1153.5" width="48" height="11.8" rx="1.5" fill="#fff" stroke="#2f2f2f" stroke-width="5.6"/>
<defs><g id="conn"><rect x="-21.9" y="0" width="43.8" height="60" rx="3" fill="#2f2f2f"/>
<rect x="-15.6" y="6.3" width="31.3" height="3.5" fill="#fff"/>
<rect x="-15.6" y="13.9" width="31.3" height="3.5" fill="#fff"/>
<path d="M-17,21.5 H17 V54.3 H-16 Z" fill="#fff"/>
<rect x="-17.2" y="20.5" width="17.6" height="29.8" rx="8" fill="#2f2f2f"/>
<rect x="-13.5" y="26.5" width="9.8" height="18.1" rx="3.4" fill="#fff"/>
<path d="M17.2,20.5 H16 Q8.1,20.5 8.1,29 V42 Q8.1,50.3 16,50.3 H17.2 Z" fill="#2f2f2f"/>
<path d="M16.2,26.5 H14.6 Q11.6,26.5 11.6,30 V41 Q11.6,44.6 14.6,44.6 H16.2 Z" fill="#fff"/>
<path d="M-38.6,100 V70 Q-38.6,59.9 -28,59.9 H28 Q38.7,59.9 38.7,70 V100 Q38.7,103.1 35.6,103.1 H-35.5 Q-38.6,103.1 -38.6,100 Z" fill="#2f2f2f"/>
<path d="M-30.9,71.1 V70.4 Q-30.9,66.9 -27,66.9 H27 Q31.8,66.9 31.8,70.4 V71.1 Z" fill="#fff"/>
<rect x="-29.5" y="76.6" width="22.3" height="12.5" fill="#fff"/>
<rect x="6.7" y="76.6" width="22.3" height="12.5" fill="#fff"/>
<rect x="-1.7" y="76.6" width="2.5" height="12.5" fill="#fff"/>
<rect x="-31" y="95.4" width="63" height="1.8" fill="#fff"/></g></defs>
<use href="#conn" transform="translate(239,1235.3)"/>
<use href="#conn" transform="translate(329.2,1213.6) rotate(-28.3) scale(0.96)"/>
</svg>
</body></html>
